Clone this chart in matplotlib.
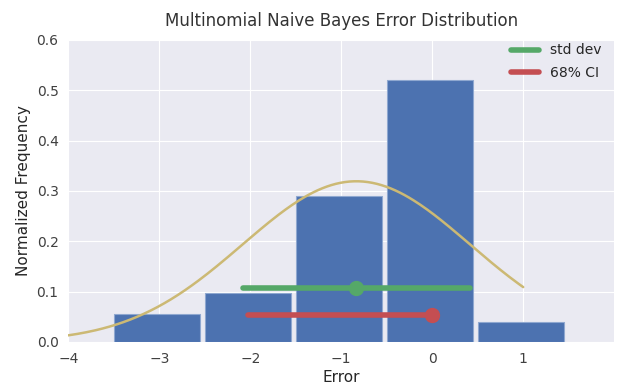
import numpy as np
import matplotlib.pyplot as plt

plt.style.use("seaborn-v0_8-darkgrid")
plt.rcParams["font.family"] = ["DejaVu Sans"]

# error bins and normalized frequencies
errors = np.array([-3, -2, -1, 0, 1])
freq = np.array([0.055, 0.097, 0.29, 0.521, 0.040])

# fitted stats
mu = -0.834
sigma = 1.25
ci_low, ci_high = -2.03, 0.0
std_y = 0.106
ci_y = 0.0535

fig = plt.figure(figsize=(6.21, 3.88), dpi=100)
ax = fig.add_axes([0.110, 0.119, 0.879, 0.778])

ax.bar(errors - 0.5, freq, width=0.95, align="edge", color="#4C72B0",
       edgecolor="#8fa8d0", linewidth=0.8)

xs = np.linspace(-4, 1, 200)
pdf = np.exp(-0.5 * ((xs - mu) / sigma) ** 2) / (sigma * np.sqrt(2 * np.pi))
ax.plot(xs, pdf, color="#CCB974", lw=1.8)

ax.plot([mu - sigma, mu + sigma], [std_y, std_y], color="#55A868", lw=4,
        solid_capstyle="round", label="std dev")
ax.plot([mu], [std_y], "o", color="#55A868", ms=10)
ax.plot([ci_low, ci_high], [ci_y, ci_y], color="#C44E52", lw=4,
        solid_capstyle="round", label="68% CI")
ax.plot([ci_high], [ci_y], "o", color="#C44E52", ms=10)

ax.set_xlim(-4, 2)
ax.set_ylim(0, 0.6)
ax.set_xticks([-4, -3, -2, -1, 0, 1])
ax.set_xticklabels(["\u22124", "\u22123", "\u22122", "\u22121", "0", "1"])
ax.set_yticks([0, 0.1, 0.2, 0.3, 0.4, 0.5, 0.6])
ax.tick_params(labelsize=10, colors=".25", pad=7)
ax.set_xlabel("Error", fontsize=11, color=".15", labelpad=3)
ax.set_ylabel("Normalized Frequency", fontsize=11, color=".15", labelpad=4)
ax.set_title("Multinomial Naive Bayes Error Distribution", fontsize=12,
             color=".2", pad=10)
ax.legend(loc="upper right", frameon=False, fontsize=10,
          bbox_to_anchor=(1.0, 1.03), labelspacing=0.6)

plt.savefig("out.png", dpi=100)
